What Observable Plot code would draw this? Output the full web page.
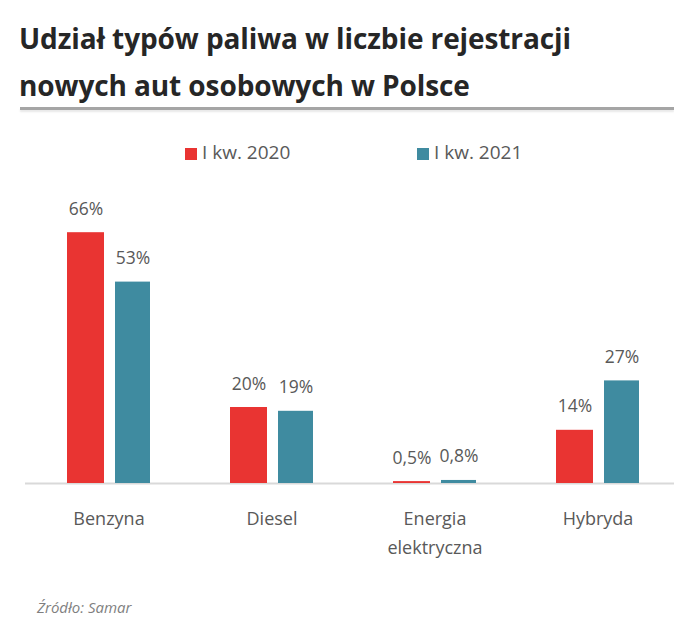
<!DOCTYPE html>
<html><head><meta charset="utf-8">
<script src="https://cdn.jsdelivr.net/npm/d3@7"></script>
<script src="https://cdn.jsdelivr.net/npm/@observablehq/plot@0.6"></script>
<style>
body{margin:0;background:#fff;font-family:"Open Sans",sans-serif;}
#wrap{position:relative;width:674px;height:644px;overflow:hidden;background:#fff;}
#title{position:absolute;left:19px;top:15px;font-weight:700;font-size:28px;line-height:47px;color:#262626;white-space:nowrap;letter-spacing:-0.1px;}
#rule{position:absolute;left:20px;right:0;top:107px;height:3px;background:#a5a5a5;box-shadow:0 2px 2px #e8e8e8;}
.leg{position:absolute;top:140px;font-size:19px;color:#595959;white-space:nowrap;line-height:24px;}
.leg span.sw{display:inline-block;width:12px;height:12px;margin-right:5px;vertical-align:-1px;}
#chart{position:absolute;left:0;top:170px;}
#caption{position:absolute;left:37px;top:597px;font-style:italic;font-size:15px;color:#7f7f7f;}
</style></head>
<body>
<div id="wrap">
  <div id="title">Udział typów paliwa w liczbie rejestracji<br>nowych aut osobowych w Polsce</div>
  <div id="rule"></div>
  <div id="legend"></div>
  <div id="chart"></div>
  <div id="caption">Źródło: Samar</div>
</div>
<script>
const categories = ["Benzyna", "Diesel", "Energia elektryczna", "Hybryda"];
const tickLabels = ["Benzyna", "Diesel", "Energia\nelektryczna", "Hybryda"];
const seriesNames = ["I kw. 2020", "I kw. 2021"];
const values2020 = [66, 20, 0.5, 14];
const values2021 = [53, 19, 0.8, 27];
const colors = ["#e93432", "#3f8ba0"];

const fmt = v => String(v).replace(".", ",") + "%";
const d2020 = categories.map((c, i) => ({category: c, value: values2020[i]}));
const d2021 = categories.map((c, i) => ({category: c, value: values2021[i]}));

// legend
const legend = document.getElementById("legend");
const legLeft = [185, 417];
seriesNames.forEach((s, i) => {
  const el = document.createElement("div");
  el.className = "leg";
  el.style.left = legLeft[i] + "px";
  el.innerHTML = `<span class="sw" style="background:${colors[i]}"></span>${s}`;
  legend.appendChild(el);
});

const labelStyle = {fontSize: 17.5, fill: "#595959", lineAnchor: "bottom", dy: -18};

const chart = Plot.plot({
  width: 674,
  height: 420,
  marginTop: 62.2,
  marginBottom: 107,
  marginLeft: 25,
  marginRight: 0,
  style: {fontFamily: "'Open Sans', sans-serif", background: "transparent"},
  x: {domain: categories, range: [32, 674], paddingInner: 0.085, paddingOuter: 0, axis: null},
  y: {domain: [0, 66], axis: null},
  marks: [
    Plot.ruleY([0], {stroke: "#d9d9d9", strokeWidth: 2}),
    Plot.barY(d2020, {x: "category", y: "value", fill: colors[0], insetLeft: 33, insetRight: 79}),
    Plot.barY(d2021, {x: "category", y: "value", fill: colors[1], insetLeft: 81, insetRight: 33}),
    Plot.text(d2020, {x: "category", y: "value", text: d => fmt(d.value), dx: -23, ...labelStyle}),
    Plot.text(d2021, {x: "category", y: "value", text: d => fmt(d.value), dx: 24, ...labelStyle}),
    Plot.axisX({tickSize: 0, tickPadding: 21, fontSize: 18, fill: "#595959", lineHeight: 1.6, label: null,
      tickFormat: d => tickLabels[categories.indexOf(d)]})
  ]
});
document.getElementById("chart").appendChild(chart);
</script>
</body></html>
